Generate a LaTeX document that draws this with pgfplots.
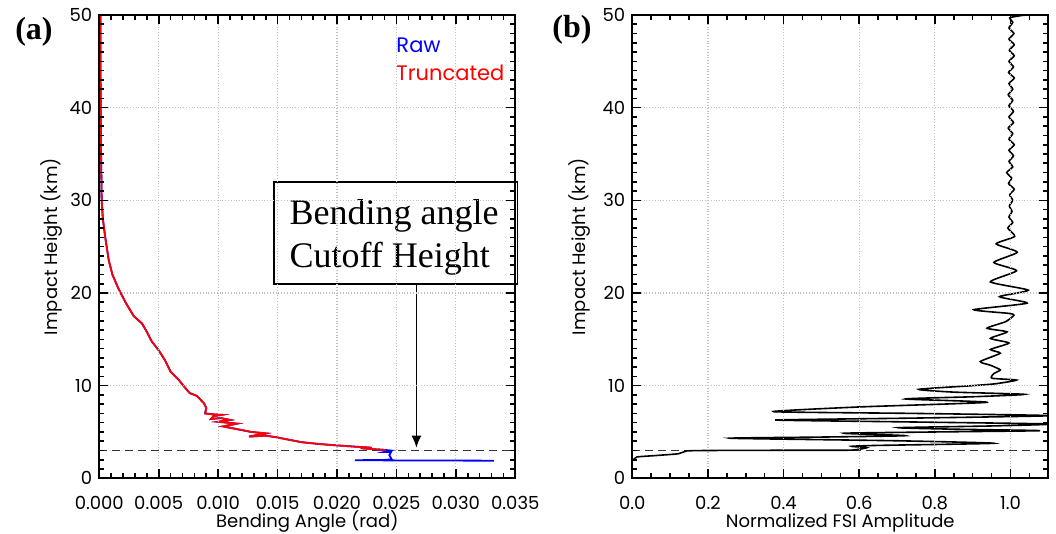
\documentclass[border=0pt]{standalone}
\usepackage{pgfplots}
\pgfplotsset{compat=1.18}
\usepackage{pgfplotstable}
\usetikzlibrary{arrows.meta}
\usepackage{fontspec}
\setmainfont{Poppins}
\newfontfamily\timesfont{Liberation Serif}

\pgfplotstableread{
x y
0.0001 50
0.0001 45
0.00012 40
0.00015 35
0.0002 30
0.0003 28
0.0005 26
0.0008 23.5
0.0011 22
0.0016 20.5
0.0022 19
0.0029 17.5
0.0036 16.7
0.0040 15.8
0.0044 14.8
0.0050 13.8
0.0055 12.8
0.0060 11.5
0.0067 10.6
0.0072 9.8
0.0076 9.2
0.0082 8.9
0.0088 8.1
0.0090 7.6
0.0089 7.0
0.0096 6.9
0.0103 6.85
0.0096 6.7
0.0094 6.4
0.0102 6.5
0.0110 6.3
0.0100 6.1
0.0108 6.0
0.0116 5.9
0.0104 5.6
0.0112 5.4
0.0120 5.2
0.0128 5.0
0.0140 4.85
0.0126 4.5
0.0140 4.6
0.0148 4.45
0.0158 4.2
0.0170 3.9
0.0185 3.7
0.0200 3.55
0.0217 3.4
0.0229 3.3
0.0220 3.25
0.0235 3.1
0.0241 3.05
}\truncated

\pgfplotstableread{
x y
0.0235 3.1
0.0241 3.05
0.0245 3.0
0.0240 2.85
0.02455 2.85
0.0244 2.5
0.0246 2.05
0.0240 1.98
0.0215 1.95
0.0250 1.93
0.0332 1.9
}\rawtail

\pgfplotstableread{
x y
0.000 1.9
0.003 1.97
0.012 2.3
0.06 2.45
0.122 2.65
0.144 2.95
0.20 3.0
0.35 3.02
0.50 3.03
0.58 3.04
0.62 3.3
0.58 3.45
0.65 3.55
0.956 3.78
0.70 4.05
0.259 4.32
0.50 4.45
0.722 4.6
0.559 4.86
0.80 5.0
1.078 5.14
0.85 5.3
0.704 5.46
0.95 5.65
1.105 5.86
0.70 6.1
0.378 6.29
0.75 6.5
1.105 6.76
0.75 7.0
0.373 7.19
0.60 7.7
0.938 8.2
0.722 8.56
0.90 8.8
1.037 9.06
0.85 9.3
0.757 9.6
0.90 10.0
0.96 10.2
1.016 10.6
0.951 10.8
0.956 11.3
0.973 11.7
0.947 12.2
0.920 12.6
0.973 13.5
0.947 13.9
0.996 14.6
0.947 15.1
0.991 15.8
0.938 16.2
0.987 16.9
1.009 17.6
0.995 17.8
0.903 18.2
1.044 18.9
0.971 19.6
1.047 20.3
0.947 21.2
1.016 22.4
0.956 23.3
1.018 24.4
0.962 25.3
1.011 26.1
0.993 27.0
1.006 27.6
0.996 28.2
1.004 28.8
0.997 29.4
1.006 30.0
0.998 30.6
1.010 31.2
0.995 31.8
1.003 32.4
0.990 33.0
1.006 33.6
0.996 34.2
1.008 34.8
0.996 35.4
1.010 36.0
0.996 36.6
1.006 37.2
0.994 37.8
1.008 38.4
0.996 39.0
1.008 39.6
0.996 40.2
1.006 40.8
0.994 41.4
1.006 42.0
0.996 42.6
1.010 43.2
0.995 43.8
1.008 44.4
0.996 45.0
1.010 45.6
0.997 46.2
1.010 46.8
0.996 47.4
1.009 48.0
0.996 48.6
1.006 49.2
0.998 49.7
1.03 49.95
1.045 50.0
}\fsi

\pgfplotsset{
  myaxis/.style={
    scale only axis, width=208pt, height=231.65pt, anchor=south west,
    ymin=0, ymax=50, ytick={0,10,20,30,40,50}, minor y tick num=9,
    axis line style={line width=1pt},
    axis on top,
    xtick pos=both, ytick pos=both,
    xtick align=inside, ytick align=inside,
    major tick length=4.5pt, minor tick length=2.5pt,
    every tick/.style={solid, black, line width=0.8pt},
    major grid style={densely dotted, black!25, line width=0.6pt},
    xmajorgrids, ymajorgrids,
    /pgf/number format/assume math mode=true,
    every tick label/.append style={font=\fontsize{9}{10}\selectfont},
    every axis label/.append style={font=\fontsize{9}{10}\selectfont},
    xticklabel style={yshift=-5.5pt},
  }
}

\begin{document}
\begin{tikzpicture}
\path[use as bounding box] (0pt,0pt) rectangle (528pt,267pt);
\begin{axis}[myaxis, at={(49.65pt,27.85pt)},
  xmin=0, xmax=0.035,
  xtick={0,0.005,0.01,0.015,0.02,0.025,0.03,0.035}, minor x tick num=4,
  scaled x ticks=false,
  xticklabel style={/pgf/number format/fixed, /pgf/number format/fixed zerofill, /pgf/number format/precision=3},
  xlabel={Bending Angle (rad)}, ylabel={Impact Height (km)},
  xlabel style={at={(axis description cs:0.5,-0.093)}, anchor=center},
  ylabel style={at={(axis description cs:-0.116,0.5)}, anchor=center},
  clip=false]
\draw[black!80, line width=0.8pt, dash pattern=on 4pt off 2.5pt] (axis cs:0,3.0) -- (axis cs:0.035,3.0);
\addplot[blue, line width=0.9pt] table {\truncated};
\addplot[blue, line width=0.9pt] table {\rawtail};
\addplot[red, line width=0.9pt] table {\truncated};
\node[anchor=west, text=blue, font=\fontsize{10.5}{12}\selectfont, inner sep=0pt] at (axis cs:0.02497,46.76) {Raw};
\node[anchor=west, text=red, font=\fontsize{10.5}{12}\selectfont, inner sep=0pt] at (axis cs:0.02497,43.75) {Truncated};
\draw[black, line width=0.8pt, fill=white] (axis cs:0.01469,20.96) rectangle (axis cs:0.0352,31.99);
\node[anchor=base west, inner sep=0pt, font=\timesfont\fontsize{18}{21}\selectfont] at (axis cs:0.01597,27.4) {Bending angle};
\node[anchor=base west, inner sep=0pt, font=\timesfont\fontsize{18}{21}\selectfont] at (axis cs:0.01597,22.8) {Cutoff Height};
\draw[black, line width=0.8pt, -{Latex[length=6pt,width=5pt]}] (axis cs:0.02668,20.96) -- (axis cs:0.02668,3.3);
\end{axis}
\begin{axis}[myaxis, at={(316.15pt,27.85pt)},
  xmin=0, xmax=1.1,
  xtick={0,0.2,0.4,0.6,0.8,1.0}, minor x tick num=3,
  xticklabel style={/pgf/number format/fixed, /pgf/number format/fixed zerofill, /pgf/number format/precision=1},
  xlabel={Normalized FSI Amplitude}, ylabel={Impact Height (km)},
  xlabel style={at={(axis description cs:0.5,-0.096)}, anchor=center},
  ylabel style={at={(axis description cs:-0.1275,0.5)}, anchor=center}]
\draw[black!80, line width=0.8pt, dash pattern=on 4pt off 2.5pt] (axis cs:0,3.0) -- (axis cs:1.1,3.0);
\addplot[black, line width=0.8pt, smooth, tension=0.35] table {\fsi};
\end{axis}
% tick marks on all four sides (inside)
\begin{scope}[shift={(49.65pt,27.85pt)}, line width=0.8pt, black]
\foreach \i in {0,...,35}{
  \pgfmathsetmacro{\L}{ifthenelse(mod(\i,5)==0,4.5,2.5)}
  \draw (\i*5.942857pt,0pt) -- ++(0pt,\L pt);
  \draw (\i*5.942857pt,231.65pt) -- ++(0pt,-\L pt);
}
\foreach \i in {0,...,50}{
  \pgfmathsetmacro{\L}{ifthenelse(mod(\i,10)==0,4.5,2.5)}
  \draw (0pt,\i*4.633pt) -- ++(\L pt,0pt);
  \draw (208pt,\i*4.633pt) -- ++(-\L pt,0pt);
}
\end{scope}
\begin{scope}[shift={(316.15pt,27.85pt)}, line width=0.8pt, black]
\foreach \i in {0,...,22}{
  \pgfmathsetmacro{\L}{ifthenelse(mod(\i,4)==0,4.5,2.5)}
  \draw (\i*9.454545pt,0pt) -- ++(0pt,\L pt);
  \draw (\i*9.454545pt,231.65pt) -- ++(0pt,-\L pt);
}
\foreach \i in {0,...,50}{
  \pgfmathsetmacro{\L}{ifthenelse(mod(\i,10)==0,4.5,2.5)}
  \draw (0pt,\i*4.633pt) -- ++(\L pt,0pt);
  \draw (208pt,\i*4.633pt) -- ++(-\L pt,0pt);
}
\end{scope}
\node[font=\timesfont\bfseries\fontsize{16}{18}\selectfont] at (17pt,251.2pt) {(a)};
\node[font=\timesfont\bfseries\fontsize{16}{18}\selectfont] at (286pt,251.9pt) {(b)};
\end{tikzpicture}
\end{document}
